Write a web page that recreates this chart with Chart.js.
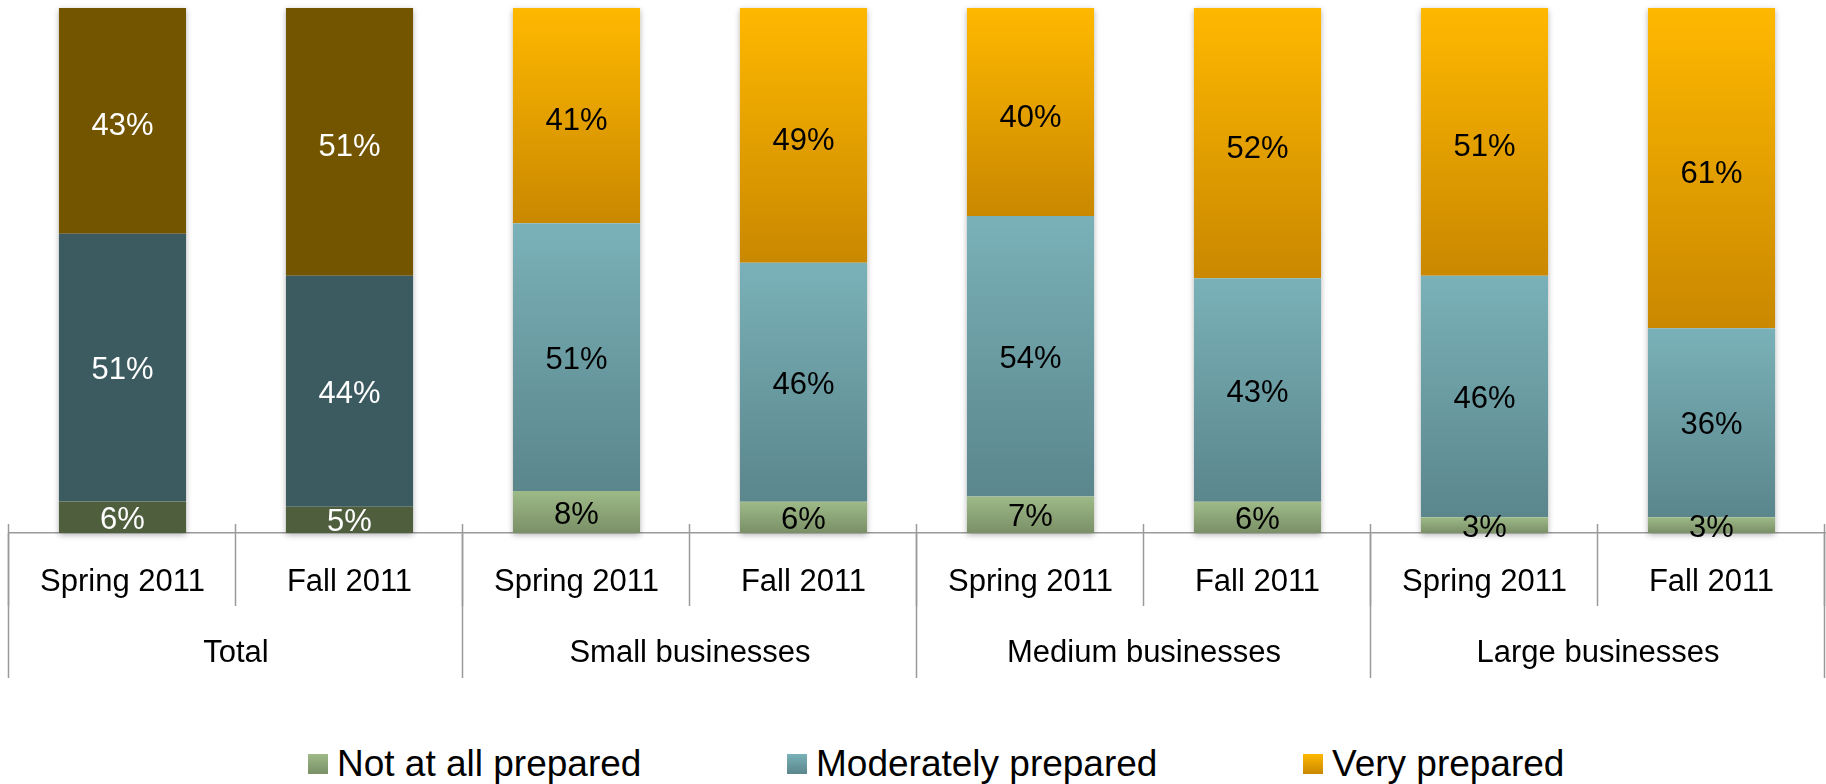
<!DOCTYPE html>
<html>
<head>
<meta charset="utf-8">
<script src="https://cdn.jsdelivr.net/npm/chart.js@4"></script>
<style>
  body { margin: 0; background: #fff; font-family: 'Liberation Sans', Arial, sans-serif; }
  #wrap { position: relative; width: 1826px; height: 784px; overflow: hidden; }
  #grafico { position: absolute; left: 0; top: 0; }
  .leg { position: absolute; top: 743px; height: 42px; display: flex; align-items: center; font-size: 37px; line-height: 42px; color: #000; white-space: nowrap; }
  .leg i { display: inline-block; width: 20px; height: 20px; margin-right: 9px; }
</style>
</head>
<body>
<div id="wrap">
  <canvas id="grafico" width="1826" height="700"></canvas>
  <div class="leg" style="left:308px"><i style="background:linear-gradient(#9eba88,#7a8f66)"></i>Not at all prepared</div>
  <div class="leg" style="left:787px"><i style="background:linear-gradient(#7ab1b8,#5a868c)"></i>Moderately prepared</div>
  <div class="leg" style="left:1303px"><i style="background:linear-gradient(#ffb800,#c98800)"></i>Very prepared</div>
</div>
<script>
// Dados

var periodos = ['Spring 2011', 'Fall 2011', 'Spring 2011', 'Fall 2011', 'Spring 2011', 'Fall 2011', 'Spring 2011', 'Fall 2011'];
var grupos = ['Total', 'Small businesses', 'Medium businesses', 'Large businesses'];

var notAtAll = [6, 5, 8, 6, 7, 6, 3, 3];
var moderately = [51, 44, 51, 46, 54, 43, 46, 36];
var very = [43, 51, 41, 49, 40, 52, 51, 61];

var series = [notAtAll, moderately, very];
var nomes = ['Not at all prepared', 'Moderately prepared', 'Very prepared'];

// 100% empilhado: cada barra somada vira 100
var totais = periodos.map(function (p, j) {
  return notAtAll[j] + moderately[j] + very[j];
});
var normal = series.map(function (s) {
  return s.map(function (v, j) { return v / totais[j] * 100; });
});

// Cores

var coresTotal = ['#4f5e3d', '#3b5b60', '#735500'];
var gradientes = [
  ['#9eba88', '#7a8f66'],
  ['#7ab1b8', '#5a868c'],
  ['#ffb800', '#c98800']
];
var corLinha = '#9a9a9a';
var fonte = '"Liberation Sans", Arial, sans-serif';

function corBarra(ds) {
  return function (ctx) {
    var chart = ctx.chart;
    if (ctx.type !== 'data' || !chart.chartArea) return coresTotal[ds];
    var j = ctx.dataIndex;
    if (j < 2) return coresTotal[ds];
    var y = chart.scales.y;
    var base = 0;
    for (var k = 0; k < ds; k++) base += normal[k][j];
    var topo = y.getPixelForValue(base + normal[ds][j]);
    var fundo = y.getPixelForValue(base);
    var g = chart.ctx.createLinearGradient(0, topo, 0, fundo);
    g.addColorStop(0, gradientes[ds][0]);
    g.addColorStop(1, gradientes[ds][1]);
    return g;
  };
}

// Plugins

var sombra = {
  id: 'sombra',
  beforeDatasetsDraw: function (chart) {
    var ctx = chart.ctx;
    var baixo = chart.getDatasetMeta(0).data;
    var cima = chart.getDatasetMeta(2).data;
    ctx.save();
    ctx.shadowColor = 'rgba(0,0,0,0.3)';
    ctx.shadowBlur = 6;
    ctx.shadowOffsetY = 2;
    ctx.fillStyle = '#ffffff';
    baixo.forEach(function (bar, j) {
      var t = cima[j].y;
      ctx.fillRect(bar.x - bar.width / 2, t, bar.width, bar.base - t);
    });
    ctx.restore();
  }
};

var rotulos = {
  id: 'rotulos',
  afterDatasetsDraw: function (chart) {
    var ctx = chart.ctx;
    ctx.save();
    ctx.font = '31px ' + fonte;
    ctx.textAlign = 'center';
    ctx.textBaseline = 'middle';
    series.forEach(function (s, i) {
      var ajuste = i === 2 ? 6 : 3;
      chart.getDatasetMeta(i).data.forEach(function (bar, j) {
        ctx.fillStyle = j < 2 ? '#ffffff' : '#000000';
        ctx.fillText(s[j] + '%', bar.x, (bar.y + bar.base) / 2 + ajuste);
      });
    });
    ctx.restore();
  }
};

// linhas divisórias das categorias (dois níveis)
var divisorias = {
  id: 'divisorias',
  afterDraw: function (chart) {
    var x = chart.scales.x;
    var x2 = chart.scales.x2;
    var b = chart.chartArea.bottom;
    var ctx = chart.ctx;
    ctx.save();
    ctx.strokeStyle = corLinha;
    ctx.lineWidth = 1.5;
    for (var k = 0; k <= periodos.length; k++) {
      var px = Math.round(x.getPixelForValue(k - 0.5)) - 0.5;
      ctx.beginPath();
      ctx.moveTo(px, b - 9);
      ctx.lineTo(px, b + 73);
      ctx.stroke();
    }
    for (var g = 0; g <= grupos.length; g++) {
      var gx = Math.round(x2.getPixelForValue(g - 0.5)) - 0.5;
      ctx.beginPath();
      ctx.moveTo(gx, b);
      ctx.lineTo(gx, b + 145);
      ctx.stroke();
    }
    ctx.restore();
  }
};

// Gráfico

var datasets = series.map(function (s, i) {
  return {
    label: nomes[i],
    data: normal[i],
    backgroundColor: corBarra(i),
    borderWidth: 0,
    barPercentage: 0.56,
    categoryPercentage: 1
  };
});

new Chart(document.getElementById('grafico'), {
  type: 'bar',
  data: { labels: periodos, datasets: datasets },
  plugins: [sombra, rotulos, divisorias],
  options: {
    responsive: false,
    animation: false,
    layout: { padding: { top: 8, left: 9, right: 1, bottom: 25 } },
    plugins: {
      legend: { display: false },
      tooltip: { enabled: false }
    },
    scales: {
      y: {
        display: false,
        stacked: true,
        min: 0,
        max: 100
      },
      x: {
        stacked: true,
        offset: true,
        border: { color: corLinha, width: 1.5 },
        grid: {
          offset: true,
          drawOnChartArea: false,
          drawTicks: false
        },
        ticks: {
          color: '#000',
          font: { size: 31, family: fonte },
          padding: 30.4,
          autoSkip: false,
          maxRotation: 0
        }
      },
      x2: {
        type: 'category',
        position: 'bottom',
        labels: grupos,
        offset: true,
        border: { display: false },
        grid: {
          offset: true,
          drawOnChartArea: false,
          drawTicks: false
        },
        ticks: {
          color: '#000',
          font: { size: 31, family: fonte },
          padding: 3.4,
          autoSkip: false,
          maxRotation: 0
        }
      }
    }
  }
});
</script>
</body>
</html>
